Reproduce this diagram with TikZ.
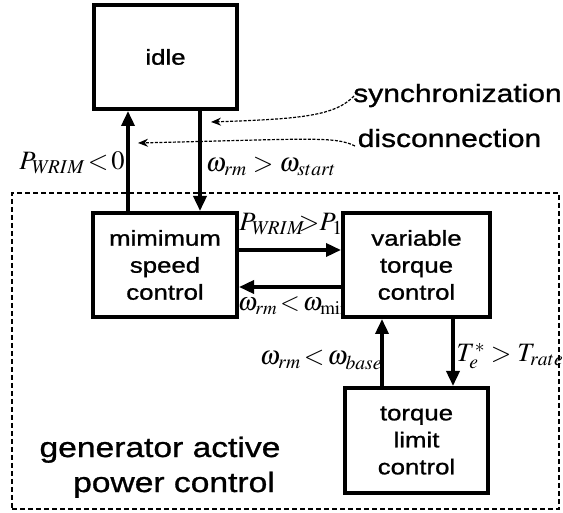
\documentclass[tikz,border=0pt]{standalone}
\usepackage[no-math]{fontspec}
\usepackage{mathptmx}
\usetikzlibrary{arrows.meta}
\newfontfamily\wsans[FakeStretch=1.2,FakeBold=1]{Liberation Sans}
\begin{document}
\begin{tikzpicture}[x=1pt,y=-1pt,
  blk/.style={draw, line width=4pt, fill=white, align=center, inner sep=0pt,
    font=\wsans\fontsize{21.5}{27}\selectfont},
  arr/.style={line width=3.5pt, -{Triangle[length=15pt,width=13pt]}},
  dasharr/.style={line width=1.2pt, dash pattern=on 3pt off 1.5pt, -{Stealth[length=10pt,width=8pt]}},
  grp/.style={draw, line width=1.8pt, dash pattern=on 5pt off 3pt, inner sep=0pt},
  lbl/.style={inner sep=0pt, font=\fontsize{26.5}{30}\selectfont},
  txt/.style={inner sep=0pt, anchor=base, font=\wsans\fontsize{25}{30}\selectfont},
  gtxt/.style={inner sep=0pt, anchor=base, font=\wsans\fontsize{28}{34}\selectfont}]
\useasboundingbox (0,0) rectangle (563,513);
\fill[white] (0,0) rectangle (563,513);

% group frame
\node[grp, minimum width=547pt, minimum height=316pt] (grp) at (285.5,351) {};

% labels (drawn first so boxes and arrows cover their ends)
\node[lbl] (l1) at (72,163) {$P_{W\!RIM}\!<\!0$};
\node[lbl] (l2) at (271,166) {$\omega_{rm} > \omega_{start}$};
\node[lbl] (l3) at (291,224) {$P_{W\!RIM}\!\!\!\!>\!\!P_1$};
\node[lbl, font=\fontsize{25.5}{30}\selectfont] (l4) at (294,306) {$\omega_{rm}\!<\!\omega_{\mathrm{min}}$};
\node[lbl] (l5) at (321,360) {$\omega_{rm}\!<\!\omega_{base}$};
\node[lbl] (l6) at (510,356) {$T_e^{*}>T_{rate}$};

% blocks
\node[blk, minimum width=143pt, minimum height=104pt] (idle) at (165.5,57) {idle};
\node[blk, minimum width=144pt, minimum height=104pt] (msc) at (165,265) {mimimum\\speed\\control};
\node[blk, minimum width=147pt, minimum height=104pt] (vtc) at (416.5,265) {variable\\torque\\control};
\node[blk, minimum width=143pt, minimum height=105pt] (tlc) at (416.5,440.5) {torque\\limit\\control};

% arrow columns / rows
\coordinate (c1) at (128,0);
\coordinate (c2) at (200,0);
\coordinate (c3) at (382,0);
\coordinate (c4) at (453,0);
\coordinate (r1) at (0,250);
\coordinate (r2) at (0,287);

\draw[arr] (msc.north -| c1) -- (idle.south -| c1);
\draw[arr] (idle.south -| c2) -- (msc.north -| c2);
\draw[arr] (msc.east |- r1) -- (vtc.west |- r1);
\draw[arr] (vtc.west |- r2) -- (msc.east |- r2);
\draw[arr] (tlc.north -| c3) -- (vtc.south -| c3);
\draw[arr] (vtc.south -| c4) -- (tlc.north -| c4);

% side texts
\node[txt] (sync) at (457.5,102) {synchronization};
\node[txt] (disc) at (449.5,147) {disconnection};
\node[gtxt] (g1) at (160,457) {generator active};
\node[gtxt] (g2) at (174,492) {power control};

\coordinate (s0) at (354,96);
\coordinate (s1) at (211,122);
\coordinate (d0) at (355,146);
\coordinate (d1) at (138,143);
\draw[dasharr] (s0) .. controls (335,116) and (300,119) .. (s1);
\draw[dasharr] (d0) .. controls (335,136) and (310,139) .. (d1);
\end{tikzpicture}
\end{document}
